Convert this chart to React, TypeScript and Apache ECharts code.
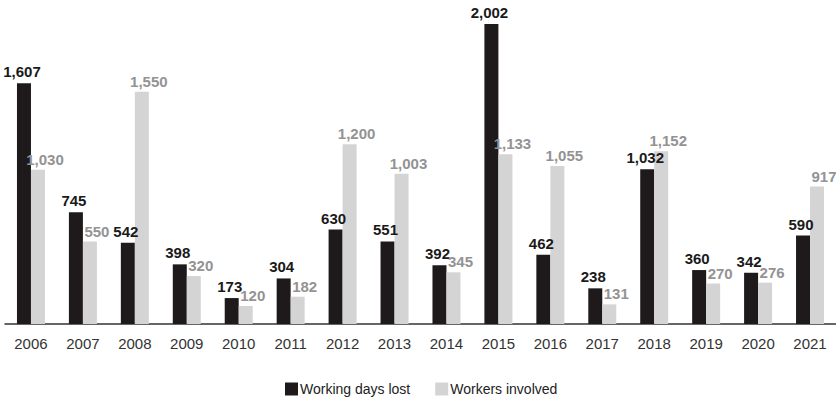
import React, { useEffect, useRef } from "react";
import * as echarts from "echarts";

const years = ["2006","2007","2008","2009","2010","2011","2012","2013","2014","2015","2016","2017","2018","2019","2020","2021"];
const workingDaysLost = [1607, 745, 542, 398, 173, 304, 630, 551, 392, 2002, 462, 238, 1032, 360, 342, 590];
const workersInvolved = [1030, 550, 1550, 320, 120, 182, 1200, 1003, 345, 1133, 1055, 131, 1152, 270, 276, 917];

const FONT = "'Liberation Sans', Arial, sans-serif";
const fmt = (v: number) => v.toLocaleString("en-US");

export default function App() {
  const ref = useRef<HTMLDivElement>(null);
  useEffect(() => {
    if (!ref.current) return;
    const chart = echarts.init(ref.current, undefined, { renderer: "svg" });
    chart.setOption({
      animation: false,
      backgroundColor: "#ffffff",
      grid: { left: 5, right: 0, top: 24, bottom: 79 },
      legend: {
        top: 380,
        left: 280,
        padding: [2, 5, 2, 5],
        itemWidth: 13,
        itemHeight: 13,
        itemGap: 25,
        icon: "rect",
        textStyle: { fontFamily: FONT, fontSize: 14, color: "#222", padding: [0, 0, 0, -3] },
        data: ["Working days lost", "Workers involved"],
      },
      xAxis: {
        type: "category",
        data: years,
        axisTick: { show: false },
        axisLine: { lineStyle: { color: "#333", width: 1.5 } },
        axisLabel: { fontFamily: FONT, fontSize: 15, color: "#333", margin: 12 },
      },
      yAxis: {
        type: "value",
        min: 0,
        max: 2002,
        show: false,
        splitLine: { show: false },
      },
      series: [
        {
          name: "Working days lost",
          type: "bar",
          data: workingDaysLost,
          barWidth: 14,
          barGap: "0%",
          itemStyle: { color: "#1e1a1b" },
          label: {
            show: true,
            position: "top",
            distance: 4,
            offset: [-2, 0],
            fontFamily: FONT,
            fontSize: 15,
            fontWeight: "bold",
            color: "#1a1a1a",
            formatter: (p: any) => fmt(p.value),
          },
        },
        {
          name: "Workers involved",
          type: "bar",
          data: workersInvolved,
          barWidth: 14,
          itemStyle: { color: "#d4d4d4" },
          label: {
            show: true,
            position: "top",
            distance: 3,
            offset: [7, 0],
            fontFamily: FONT,
            fontSize: 15,
            fontWeight: "bold",
            color: "#939393",
            formatter: (p: any) => fmt(p.value),
          },
        },
      ],
    });
    return () => chart.dispose();
  }, []);
  return (
    <div
      ref={ref}
      style={{ position: "absolute", left: 0, top: 0, width: 836, height: 403 }}
    />
  );
}
